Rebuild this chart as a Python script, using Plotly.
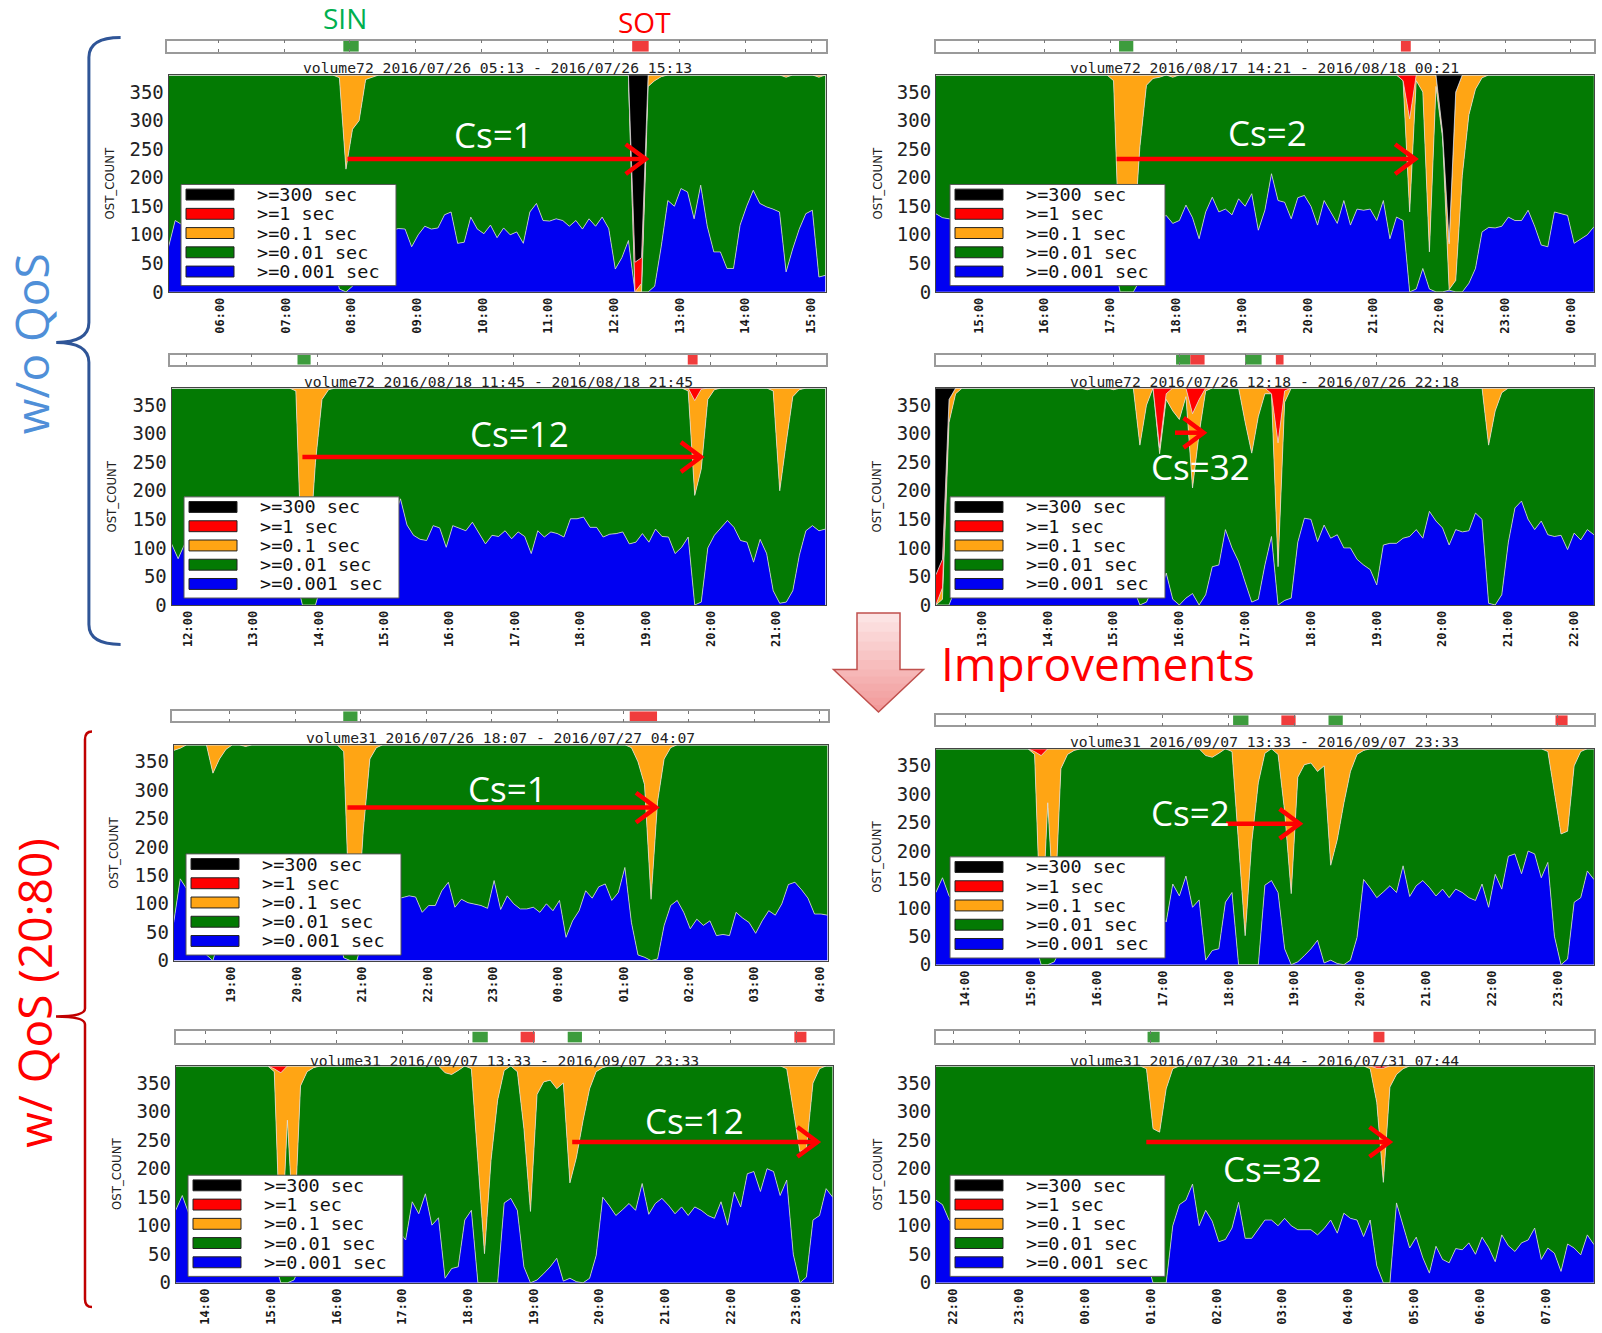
import numpy as np
import pandas as pd
import plotly.graph_objects as go

W, H = 1602, 1333
TOTAL_OST = 380
STEP_MIN = 6
SPAN_MIN = 600
N_SAMPLES = SPAN_MIN // STEP_MIN + 1

LEVEL_NAMES = [">=0.001 sec", ">=0.01 sec", ">=0.1 sec", ">=1 sec", ">=300 sec"]
LEVEL_COLORS = ["#0000f2", "#037a03", "#ffa514", "#ff0000", "#000000"]
Y_TICKS = [0, 50, 100, 150, 200, 250, 300, 350]

# ---------------- panel 1 ----------------
P1_TITLE = "volume72 2016/07/26 05:13 - 2016/07/26 15:13"
P1_START = "2016-07-26 05:13"
P1_BLUE = [79, 125, 118, 112, 120, 108, 115, 122, 117, 110,
           124, 119, 113, 121, 116, 109, 118, 125, 114, 120,
           111, 117, 123, 115, 108, 60, 5, 0, 10, 60,
           95, 110, 105, 115, 108, 111, 110, 79, 100, 115,
           110, 112, 135, 140, 85, 87, 131, 110, 102, 117,
           95, 112, 100, 105, 85, 140, 155, 125, 124, 128,
           125, 115, 125, 110, 128, 115, 131, 111, 40, 60,
           90, 0, 0, 0, 10, 80, 160, 150, 181, 175,
           128, 187, 115, 70, 70, 41, 41, 117, 150, 178,
           155, 149, 145, 140, 35, 75, 110, 137, 143, 26,
           29]
P1_ORANGE = {26: 5, 27: 165, 28: 95, 29: 80, 30: 8, 31: 4, 72: 15, 73: 20, 74: 10, 75: 3, 94: 4, 99: 4}
P1_RED = {71: 52, 72: 45}
P1_BLACK = {71: 328, 72: 320}
P1_SIN = [("2016-07-26 07:54", "2016-07-26 08:08")]
P1_SOT = [("2016-07-26 12:17", "2016-07-26 12:32")]

# ---------------- panel 2 ----------------
P2_TITLE = "volume72 2016/08/17 14:21 - 2016/08/18 00:21"
P2_START = "2016-08-17 14:21"
P2_BLUE = [137, 130, 128, 126, 130, 124, 132, 128, 135, 127,
           122, 130, 133, 126, 129, 124, 131, 128, 135, 130,
           126, 132, 129, 125, 131, 127, 120, 60, 0, 0,
           0, 20, 90, 120, 128, 134, 120, 125, 152, 130,
           93, 140, 166, 140, 145, 135, 163, 150, 172, 108,
           143, 207, 160, 157, 128, 165, 169, 150, 117, 160,
           140, 120, 160, 117, 145, 143, 145, 125, 160, 93,
           131, 125, 0, 5, 41, 5, 0, 0, 3, 0,
           0, 15, 41, 105, 113, 112, 115, 131, 125, 125,
           143, 115, 82, 79, 140, 137, 134, 85, 92, 100,
           114]
P2_ORANGE = {27: 10, 28: 350, 29: 340, 30: 300, 31: 126, 32: 18, 33: 6, 34: 4, 36: 4,
             72: 163, 73: 10, 74: 30, 75: 310, 76: 20, 77: 10, 78: 80, 79: 330, 80: 176,
             81: 70, 82: 25, 83: 5}
P2_RED = {71: 10, 72: 77, 78: 3}
P2_BLACK = {77: 100, 78: 293, 79: 30}
P2_SIN = [("2016-08-17 17:08", "2016-08-17 17:21")]
P2_SOT = [("2016-08-17 21:25", "2016-08-17 21:34")]

# ---------------- panel 3 ----------------
P3_TITLE = "volume72 2016/08/18 11:45 - 2016/08/18 21:45"
P3_START = "2016-08-18 11:45"
P3_BLUE = [107, 81, 107, 95, 102, 110, 98, 105, 112, 100,
           108, 115, 104, 110, 98, 106, 113, 102, 95, 50,
           0, 0, 0, 40, 90, 105, 112, 100, 108, 115,
           110, 120, 130, 140, 150, 186, 140, 122, 115, 113,
           139, 135, 101, 139, 135, 130, 145, 125, 107, 122,
           120, 130, 116, 128, 120, 90, 130, 119, 128, 125,
           119, 151, 151, 154, 136, 136, 119, 124, 125, 128,
           107, 110, 125, 110, 133, 120, 119, 90, 101, 119,
           0, 5, 100, 122, 135, 148, 136, 113, 110, 75,
           115, 90, 25, 3, 5, 25, 87, 130, 139, 130,
           133]
P3_ORANGE = {19: 5, 20: 340, 21: 300, 22: 130, 23: 20, 24: 3,
             79: 5, 80: 166, 81: 140, 82: 20, 83: 3,
             92: 5, 93: 180, 94: 95, 95: 15, 96: 3}
P3_RED = {80: 22, 81: 2}
P3_BLACK = {}
P3_SIN = [("2016-08-18 13:42", "2016-08-18 13:54")]
P3_SOT = [("2016-08-18 19:39", "2016-08-18 19:48")]

# ---------------- panel 4 ----------------
P4_TITLE = "volume72 2016/07/26 12:18 - 2016/07/26 22:18"
P4_START = "2016-07-26 12:18"
P4_BLUE = [0, 0, 0, 30, 70, 95, 110, 100, 120, 105,
           90, 115, 125, 100, 110, 95, 120, 105, 115, 100,
           90, 110, 120, 100, 95, 110, 100, 85, 90, 70,
           30, 0, 5, 30, 20, 56, 10, 0, 12, 20,
           0, 18, 67, 70, 132, 100, 76, 40, 5, 10,
           70, 120, 0, 8, 12, 110, 152, 150, 111, 140,
           117, 123, 100, 100, 80, 70, 62, 35, 105, 108,
           108, 117, 120, 132, 117, 164, 147, 135, 105, 132,
           128, 130, 161, 150, 3, 0, 18, 110, 170, 182,
           150, 132, 147, 123, 120, 122, 97, 126, 114, 132,
           123]
P4_ORANGE = {1: 20, 2: 40, 3: 10, 23: 3, 27: 3, 31: 100, 32: 30, 34: 10, 35: 10,
             36: 40, 37: 55, 38: 15, 39: 130, 40: 60, 41: 5,
             47: 60, 48: 114, 49: 50, 50: 10, 52: 217, 53: 20,
             84: 100, 85: 40, 86: 8}
P4_RED = {0: 53, 1: 50, 34: 105, 35: 10, 39: 45, 40: 20, 51: 10, 52: 96, 53: 5}
P4_BLACK = {0: 327, 1: 300, 2: 20}
P4_SIN = [("2016-07-26 15:57", "2016-07-26 16:10"), ("2016-07-26 17:00", "2016-07-26 17:15")]
P4_SOT = [("2016-07-26 16:10", "2016-07-26 16:23"), ("2016-07-26 17:28", "2016-07-26 17:35")]

# ---------------- panel 5 ----------------
P5_TITLE = "volume31 2016/07/26 18:07 - 2016/07/27 04:07"
P5_START = "2016-07-26 18:07"
P5_BLUE = [67, 144, 126, 110, 60, 10, 0, 40, 100, 110,
           95, 105, 100, 92, 110, 98, 105, 95, 100, 108,
           96, 102, 110, 98, 90, 60, 5, 0, 0, 40,
           90, 100, 105, 110, 108, 111, 114, 112, 85, 97,
           97, 123, 138, 94, 108, 102, 100, 97, 92, 141,
           90, 114, 100, 91, 91, 94, 85, 100, 88, 106,
           41, 70, 88, 123, 110, 130, 135, 106, 120, 164,
           67, 10, 6, 0, 3, 62, 97, 106, 85, 56,
           73, 62, 70, 44, 46, 44, 85, 75, 67, 48,
           70, 88, 80, 100, 134, 138, 125, 110, 82, 82,
           80]
P5_ORANGE = {0: 10, 1: 6, 6: 50, 7: 25, 8: 8, 11: 3, 26: 12, 27: 340, 28: 330, 29: 150,
             30: 25, 31: 5, 70: 5, 71: 30, 72: 70, 73: 272, 74: 100, 75: 25, 76: 5}
P5_RED = {}
P5_BLACK = {}
P5_SIN = [("2016-07-26 20:44", "2016-07-26 20:57")]
P5_SOT = [("2016-07-27 01:06", "2016-07-27 01:31")]

# ---------------- panel 6 (panel 7 shows the same window) ----------------
P6_TITLE = "volume31 2016/09/07 13:33 - 2016/09/07 23:33"
P6_START = "2016-09-07 13:33"
P6_BLUE = [127, 153, 121, 110, 105, 115, 100, 108, 112, 104,
           110, 118, 106, 100, 90, 40, 0, 0, 5, 30,
           70, 90, 105, 98, 110, 102, 95, 108, 115, 104,
           100, 110, 95, 105, 90, 75, 142, 121, 156, 101,
           114, 8, 25, 28, 110, 127, 0, 0, 0, 0,
           140, 148, 127, 28, 0, 5, 16, 28, 43, 3,
           8, 2, 0, 8, 48, 150, 135, 118, 128, 139,
           127, 174, 120, 139, 148, 136, 121, 133, 118, 133,
           127, 118, 113, 142, 101, 159, 133, 191, 195, 160,
           200, 195, 153, 180, 50, 0, 10, 110, 118, 165,
           150]
P6_ORANGE = {15: 5, 16: 330, 17: 95, 18: 300, 19: 35, 20: 10, 21: 3,
             41: 12, 42: 15, 43: 8, 45: 5, 46: 165, 47: 329, 48: 165, 49: 60, 50: 8,
             52: 10, 53: 110, 54: 255, 55: 50, 56: 28, 57: 25, 58: 40, 59: 30, 60: 205,
             61: 160, 62: 96, 63: 40, 64: 10, 65: 3,
             93: 5, 94: 80, 95: 150, 96: 145, 97: 30, 98: 5}
P6_RED = {15: 5, 16: 12}
P6_BLACK = {}
P6_SIN = [("2016-09-07 18:04", "2016-09-07 18:18"), ("2016-09-07 19:31", "2016-09-07 19:44")]
P6_SOT = [("2016-09-07 18:48", "2016-09-07 19:01"), ("2016-09-07 22:58", "2016-09-07 23:09")]

# ---------------- panel 8 ----------------
P8_TITLE = "volume31 2016/07/30 21:44 - 2016/07/31 07:44"
P8_START = "2016-07-30 21:44"
P8_BLUE = [145, 137, 110, 100, 95, 105, 110, 98, 102, 115,
           108, 96, 104, 112, 100, 95, 108, 102, 110, 98,
           105, 100, 96, 108, 112, 100, 95, 104, 98, 100,
           95, 80, 40, 0, 0, 0, 100, 137, 145, 173,
           100, 127, 108, 72, 76, 96, 141, 78, 78, 93,
           110, 110, 100, 113, 100, 93, 93, 93, 84, 95,
           110, 87, 122, 113, 110, 81, 110, 30, 0, 0,
           140, 99, 61, 80, 44, 17, 64, 41, 35, 60,
           58, 70, 50, 80, 62, 37, 84, 65, 55, 70,
           75, 96, 41, 61, 52, 20, 68, 61, 49, 84,
           67]
P8_ORANGE = {32: 5, 33: 110, 34: 116, 35: 40, 36: 5, 66: 5, 67: 60, 68: 200, 69: 37, 70: 15, 71: 5}
P8_RED = {67: 4, 68: 4}
P8_BLACK = {}
P8_SIN = [("2016-07-31 00:57", "2016-07-31 01:08")]
P8_SOT = [("2016-07-31 04:23", "2016-07-31 04:33")]

CS_LABELS = ["Cs=1", "Cs=2", "Cs=12", "Cs=32", "Cs=1", "Cs=2", "Cs=12", "Cs=32"]

PANELS = [
    dict(title=P1_TITLE, start=P1_START, blue=P1_BLUE, orange=P1_ORANGE, red=P1_RED, black=P1_BLACK, sin=P1_SIN, sot=P1_SOT),
    dict(title=P2_TITLE, start=P2_START, blue=P2_BLUE, orange=P2_ORANGE, red=P2_RED, black=P2_BLACK, sin=P2_SIN, sot=P2_SOT),
    dict(title=P3_TITLE, start=P3_START, blue=P3_BLUE, orange=P3_ORANGE, red=P3_RED, black=P3_BLACK, sin=P3_SIN, sot=P3_SOT),
    dict(title=P4_TITLE, start=P4_START, blue=P4_BLUE, orange=P4_ORANGE, red=P4_RED, black=P4_BLACK, sin=P4_SIN, sot=P4_SOT),
    dict(title=P5_TITLE, start=P5_START, blue=P5_BLUE, orange=P5_ORANGE, red=P5_RED, black=P5_BLACK, sin=P5_SIN, sot=P5_SOT),
    dict(title=P6_TITLE, start=P6_START, blue=P6_BLUE, orange=P6_ORANGE, red=P6_RED, black=P6_BLACK, sin=P6_SIN, sot=P6_SOT),
    dict(title=P6_TITLE, start=P6_START, blue=P6_BLUE, orange=P6_ORANGE, red=P6_RED, black=P6_BLACK, sin=P6_SIN, sot=P6_SOT),
    dict(title=P8_TITLE, start=P8_START, blue=P8_BLUE, orange=P8_ORANGE, red=P8_RED, black=P8_BLACK, sin=P8_SIN, sot=P8_SOT),
]

# ---------------- layout geometry (pixels) ----------------
GEOM = [
    dict(plot=(168.6, 75.6, 825.5, 294.3), tl=(166.5, 40.9, 825.5, 52.1), title_y=68.5, ytitle_x=109, legend=(181, 186), arrow=(347.4, 645.7, 160.4), cs=(493.5, 135.9)),
    dict(plot=(935.9, 75.6, 1593.9, 294.3), tl=(935.9, 40.9, 1593.9, 52.1), title_y=68.5, ytitle_x=877, legend=(950, 186), arrow=(1116.7, 1415.1, 160.4), cs=(1267.6, 133.8)),
    dict(plot=(171.6, 391.3, 825.5, 610.0), tl=(169.6, 357.6, 825.5, 367.8), title_y=385, ytitle_x=112, legend=(184, 501), arrow=(302.4, 700.9, 460.8), cs=(519, 437.3)),
    dict(plot=(935.9, 391.3, 1593.9, 610.0), tl=(935.9, 357.6, 1593.9, 367.8), title_y=385, ytitle_x=877, legend=(950, 501), arrow=(1175, 1203.6, 436.3), cs=(1200.4, 470)),
    dict(plot=(173.7, 751.0, 827.6, 968.6), tl=(171.6, 717.2, 827.6, 727.4), title_y=744, ytitle_x=114, legend=(186, 861), arrow=(347.4, 656, 814.3), cs=(507.8, 794.9)),
    dict(plot=(935.9, 755.0, 1593.9, 972.7), tl=(935.9, 721.3, 1593.9, 731.5), title_y=748, ytitle_x=877, legend=(950, 864), arrow=(1226, 1299.6, 830.6), cs=(1190.3, 819.4)),
    dict(plot=(175.7, 1074.8, 832.7, 1293.5), tl=(175.7, 1040, 832.7, 1051.3), title_y=1069, ytitle_x=116.5, legend=(188, 1185), arrow=(572.2, 817.4, 1151.4), cs=(694.8, 1130)),
    dict(plot=(935.9, 1074.8, 1593.9, 1293.5), tl=(935.9, 1040, 1593.9, 1051.3), title_y=1069, ytitle_x=877, legend=(950, 1185), arrow=(1146.3, 1389.5, 1151.4), cs=(1272, 1178)),
]

MONO = "DejaVu Sans Mono"
NARROW = "Liberation Sans Narrow, DejaVu Sans Condensed, DejaVu Sans"
SANS = "Open Sans"
FRAME = "#444444"
EDGE = "rgba(225,225,225,0.9)"
SIN_COLOR = "#3d9c3d"
SOT_COLOR = "#f03c3c"


def px(x):
    return x / W


def py(y):
    return 1 - y / H


def dense(sparse):
    arr = np.zeros(N_SAMPLES)
    for i, v in sparse.items():
        arr[i] = v
    return arr


def fmt(ts):
    return ts.strftime("%Y-%m-%d %H:%M:%S")


fig = go.Figure()
layout = dict(width=W, height=H, margin=dict(l=0, r=0, t=0, b=0), paper_bgcolor="white",
              plot_bgcolor="white", showlegend=False, barmode="overlay", hovermode=False)
shapes = []
annotations = []

for k, (p, g) in enumerate(zip(PANELS, GEOM)):
    i = k + 1
    ax = "" if i == 1 else str(i)
    tl = str(i + 8)
    start = pd.Timestamp(p["start"])
    end = start + pd.Timedelta(minutes=SPAN_MIN)
    times = pd.date_range(start, periods=N_SAMPLES, freq=f"{STEP_MIN}min")
    blue = np.array(p["blue"], dtype=float)
    orange = dense(p["orange"])
    red = dense(p["red"])
    black = dense(p["black"])
    green = np.clip(TOTAL_OST - blue - orange - red - black, 0, None)
    for name, color, vals in zip(LEVEL_NAMES, LEVEL_COLORS, [blue, green, orange, red, black]):
        fig.add_trace(go.Scatter(x=times, y=vals, name=name, stackgroup=f"s{i}", mode="lines",
                                 line=dict(width=0.8, color=EDGE), fillcolor=color,
                                 xaxis=f"x{ax}", yaxis=f"y{ax}", showlegend=False, hoverinfo="skip"))
    # timeline of SIN / SOT events
    for events, color in ((p["sin"], SIN_COLOR), (p["sot"], SOT_COLOR)):
        s = pd.to_datetime([e[0] for e in events])
        e_ = pd.to_datetime([e[1] for e in events])
        mids = s + (e_ - s) / 2
        widths = [(b - a).total_seconds() * 1000 for a, b in zip(s, e_)]
        fig.add_trace(go.Bar(x=mids, y=[1] * len(events), base=[0] * len(events), width=widths,
                             marker=dict(color=color, line=dict(width=0)),
                             xaxis=f"x{tl}", yaxis=f"y{tl}", showlegend=False, hoverinfo="skip"))

    x0, y0, x1, y1 = g["plot"]
    layout[f"xaxis{ax}"] = dict(domain=[px(x0), px(x1)], anchor=f"y{ax}", type="date",
                                range=[fmt(start), fmt(end)], tick0=fmt(start.floor("h")), dtick=3600000,
                                tickformat="%H:%M", tickangle=-90,
                                tickfont=dict(family=MONO, size=12, color="#1a1a1a", weight="bold"),
                                showline=True, linecolor=FRAME, linewidth=1, mirror=True, ticks="",
                                showgrid=False, zeroline=False, fixedrange=True)
    layout[f"yaxis{ax}"] = dict(domain=[py(y1), py(y0)], anchor=f"x{ax}", range=[0, TOTAL_OST],
                                tickvals=Y_TICKS, tickfont=dict(family=MONO, size=19, color="#222"),
                                showline=True, linecolor=FRAME, linewidth=1, mirror=True, ticks="",
                                showgrid=False, zeroline=False, fixedrange=True)
    tx0, ty0, tx1, ty1 = g["tl"]
    layout[f"xaxis{tl}"] = dict(domain=[px(tx0), px(tx1)], anchor=f"y{tl}", type="date",
                                range=[fmt(start), fmt(end)], tick0=fmt(start.floor("h")), dtick=3600000,
                                showticklabels=False, ticks="inside", ticklen=3, tickcolor="#777",
                                showline=True, linecolor="#9a9a9a", linewidth=1.5, mirror="ticks",
                                showgrid=False, zeroline=False, fixedrange=True)
    layout[f"yaxis{tl}"] = dict(domain=[py(ty1), py(ty0)], anchor=f"x{tl}", range=[0, 1],
                                showticklabels=False, ticks="", showline=True, linecolor="#9a9a9a",
                                linewidth=1.5, mirror=True, showgrid=False, zeroline=False, fixedrange=True)

    # panel title and y title
    annotations.append(dict(x=px((x0 + x1) / 2), y=py(g["title_y"]), xref="paper", yref="paper",
                            text=p["title"], showarrow=False, xanchor="center", yanchor="middle",
                            font=dict(family=MONO, size=14.7, color="#222")))
    annotations.append(dict(x=px(g["ytitle_x"]), y=py((y0 + y1) / 2), xref="paper", yref="paper",
                            text="OST_COUNT", showarrow=False, textangle=-90, xanchor="center",
                            yanchor="middle", font=dict(family=NARROW, size=13, color="#222")))

    # legend box (drawn like the matplotlib legend)
    lx, ly = g["legend"]
    shapes.append(dict(type="rect", xref="paper", yref="paper", x0=px(lx), x1=px(lx + 215),
                       y0=py(ly + 102), y1=py(ly), fillcolor="white", line=dict(color="#555", width=1),
                       layer="above"))
    for r, (name, color) in enumerate(zip(LEVEL_NAMES[::-1], LEVEL_COLORS[::-1])):
        cy = ly + 10.2 + 19.4 * r
        shapes.append(dict(type="rect", xref="paper", yref="paper", x0=px(lx + 5), x1=px(lx + 53),
                           y0=py(cy + 5.5), y1=py(cy - 5.5), fillcolor=color,
                           line=dict(color="#222", width=1), layer="above"))
        annotations.append(dict(x=px(lx + 74), y=py(cy), xref="paper", yref="paper", text=name,
                                showarrow=False, xanchor="left", yanchor="middle",
                                font=dict(family=MONO, size=18.5, color="#111")))

    # Cs arrow and label
    a0, a1, ay = g["arrow"]
    shapes.append(dict(type="line", xref="paper", yref="paper", x0=px(a0), x1=px(a1 - 2), y0=py(ay), y1=py(ay),
                       line=dict(color="#ff0000", width=4.5), layer="above"))
    chev = f"M {px(a1 - 20)},{py(ay - 15)} L {px(a1)},{py(ay)} L {px(a1 - 20)},{py(ay + 15)}"
    shapes.append(dict(type="path", xref="paper", yref="paper", path=chev,
                       line=dict(color="#ff0000", width=4.5), layer="above"))
    cx, cy = g["cs"]
    annotations.append(dict(x=px(cx), y=py(cy), xref="paper", yref="paper", text=CS_LABELS[k],
                            showarrow=False, xanchor="center", yanchor="middle",
                            font=dict(family=SANS, size=35, color="white")))


def brace_path(xt, xs, xc, yt, ym, yb, r):
    return (f"M {px(xt)},{py(yt)} Q {px(xs)},{py(yt)} {px(xs)},{py(yt + r)} "
            f"L {px(xs)},{py(ym - r)} Q {px(xs)},{py(ym)} {px(xc)},{py(ym)} "
            f"Q {px(xs)},{py(ym)} {px(xs)},{py(ym + r)} "
            f"L {px(xs)},{py(yb - r)} Q {px(xs)},{py(yb)} {px(xt)},{py(yb)}")


shapes.append(dict(type="path", xref="paper", yref="paper",
                   path=brace_path(120.6, 88.9, 56.2, 37.8, 345.3, 649.8, 20),
                   line=dict(color="#2f5597", width=3), layer="above"))
shapes.append(dict(type="path", xref="paper", yref="paper",
                   path=brace_path(92, 85, 56, 737.7, 1025, 1318, 8),
                   line=dict(color="#c00000", width=2.5), layer="above"))

annotations.append(dict(x=px(31), y=py(347), xref="paper", yref="paper", text="w/o QoS", showarrow=False,
                        textangle=-90, xanchor="center", yanchor="middle",
                        font=dict(family=SANS, size=46, color="#4f8fd8")))
annotations.append(dict(x=px(34), y=py(1001), xref="paper", yref="paper", text="w/ QoS (20:80)",
                        showarrow=False, textangle=-90, xanchor="center", yanchor="middle",
                        font=dict(family=SANS, size=46, color="#ff0000")))
annotations.append(dict(x=px(345), y=py(18.4), xref="paper", yref="paper", text="SIN", showarrow=False,
                        xanchor="center", yanchor="middle", font=dict(family=SANS, size=28, color="#00b050")))
annotations.append(dict(x=px(644), y=py(22.5), xref="paper", yref="paper", text="SOT", showarrow=False,
                        xanchor="center", yanchor="middle", font=dict(family=SANS, size=28, color="#ff0000")))
annotations.append(dict(x=px(1098), y=py(669), xref="paper", yref="paper", text="Improvements",
                        showarrow=False, xanchor="center", yanchor="middle",
                        font=dict(family=SANS, size=46, color="#ff0000")))

# big block arrow with a vertical pink gradient
ARW_CX, ARW_TOP, ARW_NECK, ARW_TIP = 878.5, 618, 675, 718
SHAFT_HW, HEAD_HW = 21.5, 45
C_TOP = np.array([253, 232, 232])
C_BOT = np.array([242, 152, 152])


def band_color(ym):
    t = (ym - ARW_TOP) / (ARW_TIP - ARW_TOP)
    c = (C_TOP + (C_BOT - C_TOP) * t).astype(int)
    return f"rgb({c[0]},{c[1]},{c[2]})"


def head_hw(y):
    return HEAD_HW * (ARW_TIP - y) / (ARW_TIP - ARW_NECK)


nb = 6
for j in range(nb):
    ya = ARW_TOP + (ARW_NECK - ARW_TOP) * j / nb
    yb = ARW_TOP + (ARW_NECK - ARW_TOP) * (j + 1) / nb + 0.6
    path = (f"M {px(ARW_CX - SHAFT_HW)},{py(ya)} L {px(ARW_CX + SHAFT_HW)},{py(ya)} "
            f"L {px(ARW_CX + SHAFT_HW)},{py(yb)} L {px(ARW_CX - SHAFT_HW)},{py(yb)} Z")
    shapes.append(dict(type="path", xref="paper", yref="paper", path=path, fillcolor=band_color((ya + yb) / 2),
                       line=dict(width=0), layer="above"))
for j in range(nb):
    ya = ARW_NECK + (ARW_TIP - ARW_NECK) * j / nb
    yb = min(ARW_NECK + (ARW_TIP - ARW_NECK) * (j + 1) / nb + 0.6, ARW_TIP)
    path = (f"M {px(ARW_CX - head_hw(ya))},{py(ya)} L {px(ARW_CX + head_hw(ya))},{py(ya)} "
            f"L {px(ARW_CX + head_hw(yb))},{py(yb)} L {px(ARW_CX - head_hw(yb))},{py(yb)} Z")
    shapes.append(dict(type="path", xref="paper", yref="paper", path=path, fillcolor=band_color((ya + yb) / 2),
                       line=dict(width=0), layer="above"))
outline = (f"M {px(ARW_CX - SHAFT_HW)},{py(ARW_TOP)} L {px(ARW_CX + SHAFT_HW)},{py(ARW_TOP)} "
           f"L {px(ARW_CX + SHAFT_HW)},{py(ARW_NECK)} L {px(ARW_CX + HEAD_HW)},{py(ARW_NECK)} "
           f"L {px(ARW_CX)},{py(ARW_TIP)} L {px(ARW_CX - HEAD_HW)},{py(ARW_NECK)} "
           f"L {px(ARW_CX - SHAFT_HW)},{py(ARW_NECK)} Z")
shapes.append(dict(type="path", xref="paper", yref="paper", path=outline,
                   line=dict(color="#c0504d", width=1.5), layer="above"))

layout["shapes"] = shapes
layout["annotations"] = annotations
fig.update_layout(**layout)
fig.write_html("out.html", config={"displayModeBar": False},
               post_script="document.body.style.margin='0';document.body.style.overflow='hidden';")
